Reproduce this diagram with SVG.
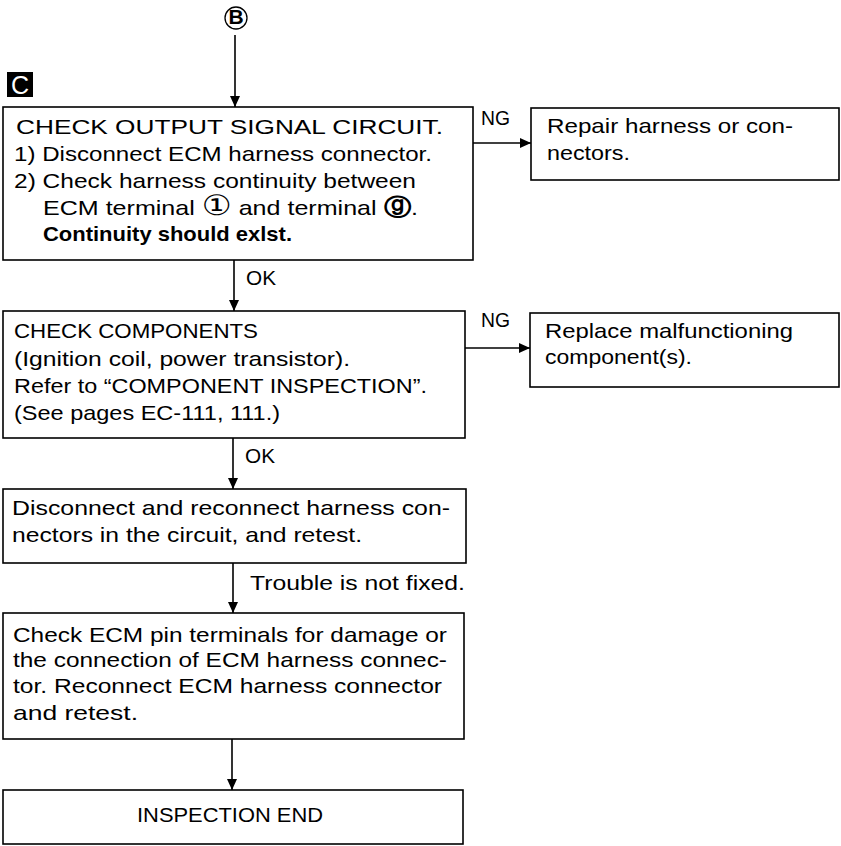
<svg xmlns="http://www.w3.org/2000/svg" width="841" height="846" viewBox="0 0 841 846">
<style>
.box{fill:#fff;stroke:#000;stroke-width:1.6}
.t{font-family:"Liberation Sans",Arial,sans-serif;font-size:21px;fill:#000}
.b{font-weight:bold}
.ln{stroke:#000;stroke-width:1.6;fill:none}
.sym{font-family:"DejaVu Sans",sans-serif}
</style>
<defs>
<marker id="ah" markerUnits="userSpaceOnUse" markerWidth="11" markerHeight="10" refX="11" refY="5" orient="auto">
<path d="M0,0 L11,5 L0,10 Z" fill="#000"/>
</marker>
</defs>
<rect width="841" height="846" fill="#fff"/>
<g id="startB">
<circle cx="236" cy="18" r="11" fill="#fff" stroke="#000" stroke-width="1.3"/>
<text class="t b" x="236" y="24" font-size="16" text-anchor="middle">B</text>
</g>
<g id="labelC">
<rect x="7" y="72" width="26" height="25" fill="#000"/>
<text x="20" y="94" font-family="Liberation Sans, Arial, sans-serif" font-size="25" fill="#fff" text-anchor="middle">C</text>
</g>
<g id="connectors">
<line class="ln" x1="235" y1="35" x2="235" y2="107" marker-end="url(#ah)"/>
<line class="ln" x1="234" y1="260" x2="234" y2="311" marker-end="url(#ah)"/>
<line class="ln" x1="233" y1="438" x2="233" y2="489" marker-end="url(#ah)"/>
<line class="ln" x1="233" y1="563" x2="233" y2="613" marker-end="url(#ah)"/>
<line class="ln" x1="232" y1="739" x2="232" y2="790" marker-end="url(#ah)"/>
<line class="ln" x1="473" y1="143" x2="531" y2="143" marker-end="url(#ah)"/>
<line class="ln" x1="465" y1="348" x2="530" y2="348" marker-end="url(#ah)"/>
<text class="t" x="481" y="125" textLength="29" lengthAdjust="spacingAndGlyphs">NG</text>
<text class="t" x="481" y="327" textLength="29" lengthAdjust="spacingAndGlyphs">NG</text>
<text class="t" x="246" y="285" textLength="30" lengthAdjust="spacingAndGlyphs">OK</text>
<text class="t" x="245" y="463" textLength="30" lengthAdjust="spacingAndGlyphs">OK</text>
<text class="t" x="250" y="590" textLength="215" lengthAdjust="spacingAndGlyphs">Trouble is not fixed.</text>
</g>
<g id="node1">
<rect class="box" x="3" y="107" width="470" height="153"/>
<text class="t" x="16" y="134" textLength="427" lengthAdjust="spacingAndGlyphs">CHECK OUTPUT SIGNAL CIRCUIT.</text>
<text class="t" x="14" y="161" textLength="418" lengthAdjust="spacingAndGlyphs">1) Disconnect ECM harness connector.</text>
<text class="t" x="14" y="188" textLength="402" lengthAdjust="spacingAndGlyphs">2) Check harness continuity between</text>
<text class="t" x="43" y="215" textLength="375" lengthAdjust="spacingAndGlyphs">ECM terminal <tspan class="sym" font-size="28">①</tspan> and terminal <tspan class="sym" font-size="23" font-weight="bold">ⓖ</tspan>.</text>
<text class="t b" x="43" y="241" textLength="249" lengthAdjust="spacingAndGlyphs">Continuity should exlst.</text>
</g>
<g id="node2">
<rect class="box" x="3" y="311" width="462" height="127"/>
<text class="t" x="14" y="338" textLength="244" lengthAdjust="spacingAndGlyphs">CHECK COMPONENTS</text>
<text class="t" x="14" y="366" textLength="336" lengthAdjust="spacingAndGlyphs">(Ignition coil, power transistor).</text>
<text class="t" x="14" y="393" textLength="413" lengthAdjust="spacingAndGlyphs">Refer to “COMPONENT INSPECTION”.</text>
<text class="t" x="14" y="420" textLength="266" lengthAdjust="spacingAndGlyphs">(See pages EC-111, 111.)</text>
</g>
<g id="node3">
<rect class="box" x="3" y="489" width="463" height="74"/>
<text class="t" x="12" y="515" textLength="438" lengthAdjust="spacingAndGlyphs">Disconnect and reconnect harness con-</text>
<text class="t" x="12" y="542" textLength="350" lengthAdjust="spacingAndGlyphs">nectors in the circuit, and retest.</text>
</g>
<g id="node4">
<rect class="box" x="3" y="613" width="461" height="126"/>
<text class="t" x="13" y="642" textLength="434" lengthAdjust="spacingAndGlyphs">Check ECM pin terminals for damage or</text>
<text class="t" x="13" y="667" textLength="434" lengthAdjust="spacingAndGlyphs">the connection of ECM harness connec-</text>
<text class="t" x="13" y="693" textLength="429" lengthAdjust="spacingAndGlyphs">tor. Reconnect ECM harness connector</text>
<text class="t" x="13" y="720" textLength="125" lengthAdjust="spacingAndGlyphs">and retest.</text>
</g>
<g id="node5">
<rect class="box" x="3" y="790" width="460" height="54"/>
<text class="t" x="137" y="822" textLength="186" lengthAdjust="spacingAndGlyphs">INSPECTION END</text>
</g>
<g id="node6">
<rect class="box" x="531" y="108" width="308" height="72"/>
<text class="t" x="547" y="133" textLength="246" lengthAdjust="spacingAndGlyphs">Repair harness or con-</text>
<text class="t" x="547" y="160" textLength="83" lengthAdjust="spacingAndGlyphs">nectors.</text>
</g>
<g id="node7">
<rect class="box" x="530" y="313" width="309" height="74"/>
<text class="t" x="545" y="338" textLength="248" lengthAdjust="spacingAndGlyphs">Replace malfunctioning</text>
<text class="t" x="545" y="364" textLength="147" lengthAdjust="spacingAndGlyphs">component(s).</text>
</g>
</svg>
